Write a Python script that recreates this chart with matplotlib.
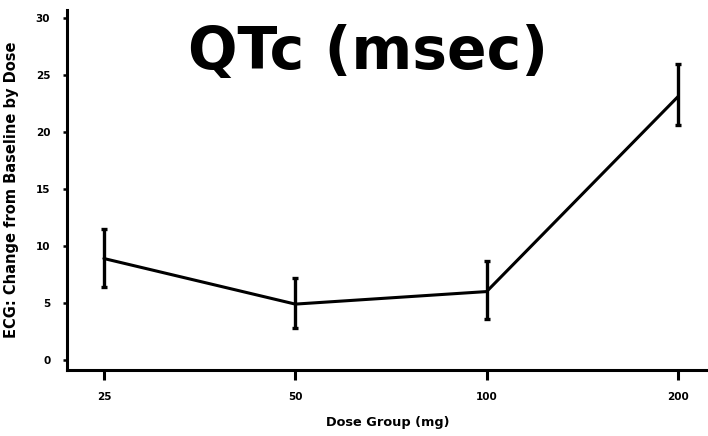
import matplotlib
matplotlib.use("Agg")
import matplotlib.pyplot as plt
import numpy as np

dose_labels = ["25", "50", "100", "200"]
qtc_mean = [8.9, 4.9, 6.0, 23.1]
qtc_low = [6.4, 2.8, 3.6, 20.6]
qtc_high = [11.5, 7.2, 8.7, 26.0]
y_ticks = [0, 5, 10, 15, 20, 25, 30]

fig = plt.figure(figsize=(7.08, 4.36), dpi=100)
ax = fig.add_axes([0.0946, 0.1514, 0.9054, 0.8256])

x = np.arange(len(dose_labels))
mean = np.array(qtc_mean)
yerr = [mean - np.array(qtc_low), np.array(qtc_high) - mean]
ax.plot(x, mean, color="black", lw=2.2, solid_capstyle="round")
ax.errorbar(x, mean, yerr=yerr, fmt="none", ecolor="black", elinewidth=2.4,
            capsize=2.5, capthick=2.4)

ax.set_xlim(-0.193, 3.157)
ax.set_ylim(-0.88, 30.7)
ax.set_xticks(x)
ax.set_xticklabels(dose_labels)
ax.set_yticks(y_ticks)
ax.set_yticklabels([str(v) for v in y_ticks])

for s in ["top", "right"]:
    ax.spines[s].set_visible(False)
for s in ["left", "bottom"]:
    ax.spines[s].set_linewidth(2.2)

ax.tick_params(axis="x", direction="out", length=7, width=2.2, pad=9, labelsize=7.5)
ax.tick_params(axis="y", direction="out", length=3, width=1.8, pad=9, labelsize=7.5)
for lab in ax.get_xticklabels() + ax.get_yticklabels():
    lab.set_fontweight("black")
    lab.set_family("DejaVu Sans")

ax.set_xlabel("Dose Group (mg)", fontsize=9.3, fontweight="bold", labelpad=10)
ax.set_ylabel("ECG: Change from Baseline by Dose", fontsize=10.5, fontweight="bold", labelpad=12)

ax.text(1.38, 27.0, "QTc (msec)", fontsize=42, fontweight="bold",
        ha="center", va="center", family="DejaVu Sans")

fig.savefig("out.png", dpi=100)
